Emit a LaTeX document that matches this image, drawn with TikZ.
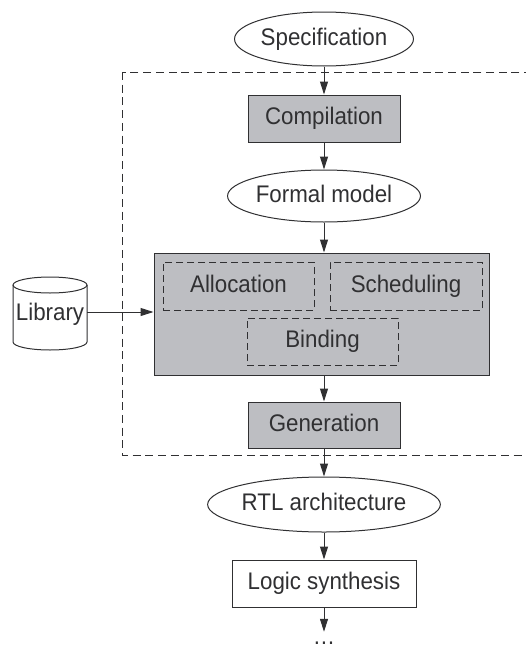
\documentclass[tikz,border=0pt]{standalone}
\usepackage{fontspec}
\setmainfont{Liberation Sans}[FakeStretch=0.93]
\usetikzlibrary{shapes.geometric,arrows.meta}
\definecolor{ink}{HTML}{303032}
\definecolor{boxgray}{RGB}{189,190,194}
\begin{document}
\begin{tikzpicture}[x=1pt,y=1pt,
  every node/.style={font=\fontsize{24}{28}\selectfont, text=ink, inner sep=0pt},
  label text/.style={text height=17pt, text depth=5pt},
  line/.style={draw=ink, line width=1pt},
  flow/.style={line, -{Triangle[length=13pt,width=8pt]}},
  oval/.style={ellipse, line, fill=white, label text},
  graybox/.style={rectangle, line, fill=boxgray, label text},
  plainbox/.style={rectangle, line, fill=white, label text},
  subtask/.style={rectangle, draw=ink, line width=1pt, dash pattern=on 7pt off 4pt, label text},
  frame/.style={draw=ink, line width=1pt, dash pattern=on 8pt off 4.7pt}]
\useasboundingbox (0,0) rectangle (526,-648);
\clip (0,0) rectangle (526,-648);

% synthesis frame (open to the right)
\draw[frame] (122,-72) rectangle (560,-455);

% main flow
\node[oval, minimum width=164pt, minimum height=54pt] (spec) at (324,-39) {Specification};
\node[graybox, minimum width=152pt, minimum height=47pt] (comp) at (324,-118.5) {Compilation};
\node[oval, minimum width=172pt, minimum height=52pt] (formal) at (324,-196) {Formal model};

% core synthesis block
\node[graybox, minimum width=335pt, minimum height=122pt] (core) at (321.5,-314) {};
\node[subtask, minimum width=151pt, minimum height=48pt] (alloc) at (238.5,-286) {Allocation};
\node[subtask, minimum width=152pt, minimum height=48pt] (sched) at (406,-286) {Scheduling};
\node[subtask, minimum width=151pt, minimum height=47pt] (bind) at (322.5,-341.5) {Binding};

\node[graybox, minimum width=152pt, minimum height=46pt] (gen) at (324,-425) {Generation};
\node[oval, minimum width=220pt, minimum height=55pt] (rtl) at (324,-504.5) {RTL architecture};
\node[plainbox, minimum width=184pt, minimum height=47pt] (logic) at (324,-583.5) {Logic synthesis};
\node[anchor=base, text height=12pt] (more) at (324,-644) {\ldots};

% library cylinder
\filldraw[line, fill=white] (13,-285) -- (13,-342)
  arc[start angle=180, end angle=360, x radius=37, y radius=8] -- (87,-285);
\draw[line] (50,-285) ellipse[x radius=37, y radius=8];
\node[label text] (lib) at (50,-314) {Library};

% connectors
\draw[flow] (spec) -- (comp);
\draw[flow] (comp) -- (formal);
\draw[flow] (formal) -- (formal |- core.north);
\draw[flow] (formal |- core.south) -- (gen);
\draw[flow] (gen) -- (rtl);
\draw[flow] (rtl) -- (logic);
\draw[flow] (logic) -- (more.north);
\draw[flow] (87,-312) coordinate (libout) -- (libout -| core.west);
\end{tikzpicture}
\end{document}
